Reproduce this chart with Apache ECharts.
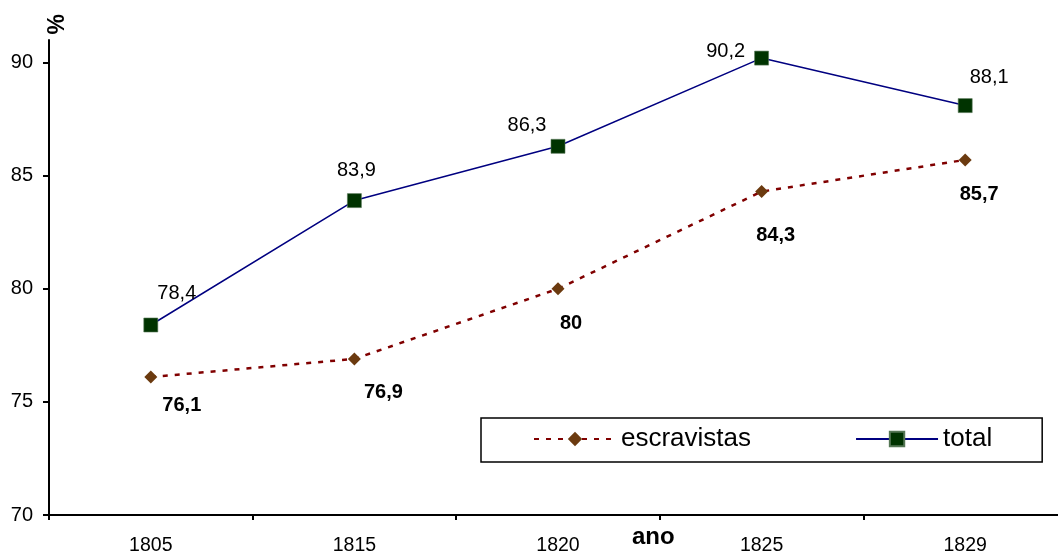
<!DOCTYPE html>
<html><head><meta charset="utf-8">
<script src="https://cdn.jsdelivr.net/npm/echarts@6/dist/echarts.min.js"></script>
<style>html,body{margin:0;padding:0;background:#fff}#c{width:1058px;height:554px}</style>
</head><body><div id="c"></div>
<script>
var categories = ['1805', '1815', '1820', '1825', '1829'];
var escravistas = [76.1, 76.9, 80, 84.3, 85.7];
var total = [78.4, 83.9, 86.3, 90.2, 88.1];
var yTicks = [70, 75, 80, 85, 90];
// label offsets from the marker centre (style only)
var totalOffsets = [[26, -32], [2, -30], [-31, -21], [-36, -7], [24, -28]];
var escOffsets = [[31, 28], [29, 34], [13, 35], [14, 44], [14, 35]];

var chart = echarts.init(document.getElementById('c'));
var font = 'Liberation Sans, Arial, sans-serif';
function fmt(p) { return String(p.value).replace('.', ','); }
chart.setOption({
  animation: false,
  textStyle: { fontFamily: font },
  grid: { left: 49, width: 1018, top: 40, bottom: 39, containLabel: false, outerBoundsMode: 'none' },
  legend: {
    left: 481, top: 418,
    padding: [8, 50, 10, 52], itemGap: 104,
    itemWidth: 82, itemHeight: 18,
    borderColor: '#000', borderWidth: 1.5,
    textStyle: { fontSize: 26, color: '#000', fontFamily: font },
    data: ['escravistas', 'total']
  },
  xAxis: {
    type: 'category', data: categories, boundaryGap: true,
    axisLine: { show: true, lineStyle: { color: '#000', width: 2 } },
    axisTick: { show: true, length: 5, lineStyle: { color: '#000', width: 2 } },
    axisLabel: { fontSize: 19.5, color: '#000', margin: 21 },
    splitLine: { show: false }
  },
  yAxis: {
    type: 'value', min: 70, max: 91, interval: 5,
    axisLine: { show: true, lineStyle: { color: '#000', width: 2 } },
    axisTick: { show: true, length: 6, customValues: yTicks, lineStyle: { color: '#000', width: 2 } },
    axisLabel: { fontSize: 20, color: '#000', margin: 16, customValues: yTicks },
    splitLine: { show: false }
  },
  graphic: [
    { type: 'text', left: 46, top: 14, rotation: Math.PI / 2,
      style: { text: '%', font: 'bold 23px ' + font, fill: '#000' } },
    { type: 'text', left: 632, top: 525,
      style: { text: 'ano', font: 'bold 24px ' + font, fill: '#000' } }
  ],
  series: [
    {
      name: 'escravistas', type: 'line', data: escravistas.map(function (v, i) {
        return { value: v, label: { offset: escOffsets[i] } };
      }),
      symbol: 'diamond', symbolSize: 13,
      itemStyle: { color: '#6b3a0f' },
      lineStyle: { color: '#800000', width: 2.5, type: [5, 7] },
      label: { show: true, position: 'inside', fontSize: 20, fontWeight: 'bold', color: '#000', formatter: fmt },
      z: 2
    },
    {
      name: 'total', type: 'line', data: total.map(function (v, i) {
        return { value: v, label: { offset: totalOffsets[i] } };
      }),
      symbol: 'rect', symbolSize: 14,
      itemStyle: { color: '#003300', borderColor: '#557755', borderWidth: 0.6 },
      lineStyle: { color: '#000080', width: 1.5 },
      label: { show: true, position: 'inside', fontSize: 20, color: '#000', formatter: fmt },
      z: 3
    }
  ]
});
</script></body></html>
